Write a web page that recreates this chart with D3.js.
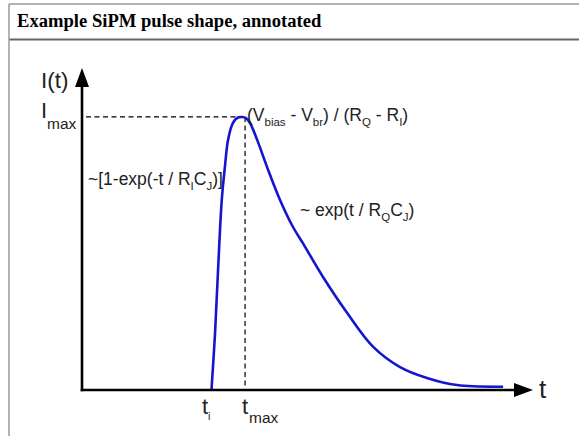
<!DOCTYPE html>
<html><head><meta charset="utf-8">
<script src="https://cdn.jsdelivr.net/npm/d3@7/dist/d3.min.js"></script>
<style>body{margin:0;background:#fff}svg{display:block}</style>
</head><body>
<svg id="c" width="579" height="436"></svg>
<script>
// pulse samples: time (arb. units) and current (relative to Imax)
const pulseT = [2.89,2.97,3.04,3.12,3.19,3.26,3.37,3.48,3.57,3.66,3.75,3.91,4.13,4.42,4.71,4.93,5.38,5.92,6.50,7.10,7.70,8.37,9.40];
const pulseI = [0,0.209,0.45,0.696,0.817,0.916,0.978,0.998,1.0,0.996,0.978,0.916,0.817,0.696,0.597,0.538,0.414,0.282,0.158,0.084,0.044,0.018,0.012];
const tI = 2.89, tMax = 3.64, iMax = 1.0;
const title = "Example SiPM pulse shape, annotated";

const svg = d3.select("#c");
// frame
svg.append("line").attr("x1",9).attr("x2",579).attr("y1",4).attr("y2",4).attr("stroke","#9a9a9a").attr("stroke-width",1.5);
svg.append("line").attr("x1",9).attr("x2",579).attr("y1",39.5).attr("y2",39.5).attr("stroke","#666").attr("stroke-width",2);
svg.append("line").attr("x1",9).attr("x2",9).attr("y1",4).attr("y2",436).attr("stroke","#9a9a9a").attr("stroke-width",1.5);
svg.append("text").attr("x",17).attr("y",27).attr("font-family","Liberation Serif, Times New Roman, serif")
  .attr("font-weight","bold").attr("font-size",18.6).attr("fill","#000").text(title);

const x = d3.scaleLinear().domain([0,10]).range([82,530]);
const y = d3.scaleLinear().domain([0,1.172]).range([390,70]);

const g = svg.append("g");
// dashed guides
g.append("line").attr("x1",x(0)+4).attr("x2",x(tMax)-2).attr("y1",y(iMax)).attr("y2",y(iMax))
  .attr("stroke","#000").attr("stroke-width",1.2).attr("stroke-dasharray","5,3.5");
g.append("line").attr("x1",x(tMax)).attr("x2",x(tMax)).attr("y1",y(iMax)).attr("y2",y(0))
  .attr("stroke","#000").attr("stroke-width",1.2).attr("stroke-dasharray","5,3.5");

// curve
const line = d3.line().x((d,i)=>x(pulseT[i])).y((d,i)=>y(pulseI[i])).curve(d3.curveCatmullRom.alpha(0.5));
g.append("path").attr("d",line(pulseT)).attr("fill","none").attr("stroke","#1515d0").attr("stroke-width",2.6);

// axes
g.append("line").attr("x1",x(0)).attr("x2",x(0)).attr("y1",y(0)+1.3).attr("y2",86).attr("stroke","#000").attr("stroke-width",2.6);
g.append("line").attr("x1",x(0)-1.3).attr("x2",516).attr("y1",y(0)).attr("y2",y(0)).attr("stroke","#000").attr("stroke-width",2.6);
g.append("path").attr("d",`M${x(0)},68 L${x(0)-7},87 L${x(0)+7},87 Z`).attr("fill","#000");
g.append("path").attr("d",`M533,${y(0)} L514,${y(0)-7} L514,${y(0)+7} Z`).attr("fill","#000");

const ff = "Liberation Sans, Arial, sans-serif";
function txt(xx,yy,size,parts){
  const t = g.append("text").attr("x",xx).attr("y",yy).attr("font-family",ff).attr("font-size",size).attr("fill","#222");
  parts.forEach(p=>{
    const s = t.append("tspan").text(p.t);
    if(p.sub){ s.attr("font-size",p.fs||size*0.65).attr("dy",p.dy||size*0.3); }
    else if(p.back){ s.attr("dy",-p.back); }
  });
  return t;
}
txt(41,88,22.5,[{t:"I(t)"}]);
txt(41,118,22,[{t:"I"}]);
txt(47,129,15.5,[{t:"max"}]);
txt(539,398,26,[{t:"t"}]);
txt(202,414,22,[{t:"t"}]);
txt(208,420,11,[{t:"i"}]);
txt(242,414,22,[{t:"t"}]);
txt(249,423,15.5,[{t:"max"}]);

// annotations
txt(247,121,17.5,[{t:"(V"},{t:"bias",sub:true,fs:11.5,dy:5},{t:" - V",back:5},{t:"br",sub:true,fs:11.5,dy:5},{t:") / (R",back:5},{t:"Q",sub:true,fs:11.5,dy:5},{t:" - R",back:5},{t:"I",sub:true,fs:11.5,dy:5},{t:")",back:5}]);
txt(88,185,17.5,[{t:"~[1-exp(-t / R"},{t:"I",sub:true,fs:11.5,dy:5},{t:"C",back:5},{t:"J",sub:true,fs:11.5,dy:5},{t:")]",back:5}]);
txt(300,216,17.5,[{t:"~ exp(t / R"},{t:"Q",sub:true,fs:11.5,dy:5},{t:"C",back:5},{t:"J",sub:true,fs:11.5,dy:5},{t:")",back:5}]);
</script>
</body></html>
